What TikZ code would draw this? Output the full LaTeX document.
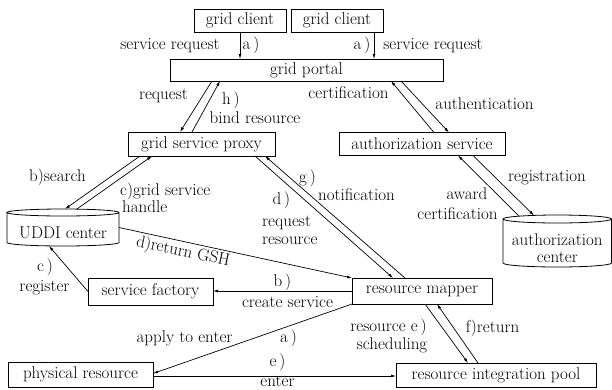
\documentclass[tikz,border=0pt]{standalone}
\usepackage{fontspec}
\usetikzlibrary{arrows.meta}
\newcommand\dgfont{\fontsize{17}{17}\selectfont}
\tikzset{
  box/.style={draw, line width=0.8pt, inner sep=0pt, outer sep=0pt, font=\dgfont},
  cylbody/.style={inner sep=0pt, outer sep=0pt, font=\dgfont},
  cyl/.style={line width=0.8pt},
  arr/.style={line width=0.7pt, -{Latex[length=5pt,width=3pt]}},
  lab/.style={inner sep=0pt, anchor=base, font=\dgfont},
  labw/.style={inner sep=0pt, anchor=base west, font=\dgfont},
}
\begin{document}
\begin{tikzpicture}[x=1pt, y=-1pt]
\useasboundingbox (0,0) rectangle (612,389);

% boxes
\node[box, minimum width=92pt,  minimum height=23pt] (gc1)      at (240,20.5)  {grid client};
\node[box, minimum width=92pt,  minimum height=23pt] (gc2)      at (337,20.5)  {grid client};
\node[box, minimum width=273pt, minimum height=22pt] (portal)   at (306.5,70)  {grid portal};
\node[box, minimum width=147pt, minimum height=24pt] (proxy)    at (201.5,144) {grid service proxy};
\node[box, minimum width=166pt, minimum height=23pt] (authsvc)  at (422,144)   {authorization service};
\node[box, minimum width=125pt, minimum height=27pt] (factory)  at (150.5,291.5) {service factory};
\node[box, minimum width=140pt, minimum height=26pt] (mapper)   at (422,291)   {resource mapper};
\node[box, minimum width=145pt, minimum height=25pt] (physical) at (80.5,374.5) {physical resource};
\node[box, minimum width=200pt, minimum height=24pt] (pool)     at (496,375)   {resource integration pool};

% databases
\node[cylbody, minimum width=112pt, minimum height=37pt] (uddi) at (63,227.5)
  {\raisebox{-5pt}[\height][\depth]{UDDI center}};
\draw[cyl] ([yshift=-3.5pt]uddi.north west) -- ([yshift=3.5pt]uddi.south west)
  arc[start angle=180, end angle=360, x radius=56pt, y radius=3.5pt]
  -- ([yshift=-3.5pt]uddi.north east)
  arc[start angle=0, end angle=180, x radius=56pt, y radius=3.5pt]
  arc[start angle=180, end angle=360, x radius=56pt, y radius=3.5pt];

\node[cylbody, minimum width=108.5pt, minimum height=52pt] (authctr) at (557.25,241)
  {\raisebox{-9.5pt}[\height][\depth]{\begin{tabular}{@{}c@{}}authorization\\center\end{tabular}}};
\draw[cyl] ([yshift=-4pt]authctr.north west) -- ([yshift=4pt]authctr.south west)
  arc[start angle=180, end angle=360, x radius=54.25pt, y radius=4pt]
  -- ([yshift=-4pt]authctr.north east)
  arc[start angle=0, end angle=180, x radius=54.25pt, y radius=4pt]
  arc[start angle=180, end angle=360, x radius=54.25pt, y radius=4pt];

% connectors
\draw[arr] (gc1.south) -- (gc1.south |- portal.north);
\draw[arr] ([xshift=-9pt]gc2.south east) coordinate (g2s) -- (g2s |- portal.north);

\draw[arr] ([xshift=42pt]portal.south west) -- ([xshift=52pt]proxy.north west);
\draw[arr] ([xshift=64pt]proxy.north west) -- ([xshift=50pt]portal.south west);

\draw[arr] ([xshift=95pt]authsvc.north west) -- ([xshift=221pt]portal.south west);
\draw[arr] ([xshift=231pt]portal.south west) -- ([xshift=110pt]authsvc.north west);

\draw[arr] ([xshift=12pt]proxy.south west) -- ([xshift=58pt]uddi.north west);
\draw[arr] ([xshift=70pt]uddi.north west) -- ([xshift=24pt]proxy.south west);

\draw[arr] ([xshift=-20pt]proxy.south east) -- ([xshift=41pt]mapper.north west);
\draw[arr] ([xshift=53pt]mapper.north west) -- ([xshift=-10pt]proxy.south east);

\draw[arr] ([xshift=16pt,yshift=-1pt]authctr.north west) -- ([xshift=119pt]authsvc.south west);
\draw[arr] ([xshift=134pt]authsvc.south west) -- ([xshift=31pt,yshift=-0.5pt]authctr.north west);

\draw[arr] (uddi.east) -- (mapper.north west);
\draw[arr] (mapper.west) -- (mapper.west -| factory.east);
\draw[arr] (mapper.south west) -- ([yshift=1pt]physical.east);
\draw[arr] ([yshift=-1.5pt]physical.east) coordinate (pe) -- (pe -| pool.west);

\draw[arr] ([xshift=73pt]mapper.south west) -- ([xshift=72pt]pool.north west);
\draw[arr] ([xshift=82pt]pool.north west) -- ([xshift=85pt]mapper.south west);

\draw[arr] (factory.west) -- ([xshift=42pt]uddi.south west);

% labels
\node[lab] (l1)  at (170,49)    {service request};
\node[lab] (l2)  at (251,49)    {a\,)};
\node[lab] (l3)  at (362,49)    {a\,)};
\node[lab] (l4)  at (433,49)    {service request};
\node[lab] (l5)  at (163.5,99)  {request};
\node[lab] (l6)  at (231,104)   {h\,)};
\node[lab] (l7)  at (255,123)   {bind resource};
\node[lab] (l8)  at (348.5,98)  {certification};
\node[lab] (l9)  at (484.5,109) {authentication};
\node[lab] (l10) at (57.5,181)  {b)search};
\node[labw] (l11) at (120,195)  {c)grid service};
\node[labw] (l12) at (122,212)  {handle};
\node[lab] (l13) at (307.5,182) {g\,)};
\node[labw] (l14) at (318,200)  {notification};
\node[lab] (l15) at (281.5,204) {d\,)};
\node[labw] (l16) at (262,226)  {request};
\node[labw] (l17) at (262,244)  {resource};
\node[lab] (l18) at (547,181)   {registration};
\node[lab] (l19) at (467,199)   {award};
\node[lab] (l20) at (457.5,219) {certification};
\node[inner sep=0pt, font=\dgfont, rotate=-12] (l21) at (183,252) {d)return GSH};
\node[lab] (l22) at (282.5,286) {b\,)};
\node[lab] (l23) at (287.5,307) {create service};
\node[lab] (l24) at (45,271)    {c\,)};
\node[lab] (l25) at (44.5,291)  {register};
\node[lab] (l26) at (184.5,342) {apply to enter};
\node[lab] (l27) at (288.5,342) {a\,)};
\node[lab] (l28) at (277.5,366) {e\,)};
\node[lab] (l29) at (277.5,386.5) {enter};
\node[lab] (l30) at (388.5,331) {resource e\,)};
\node[lab] (l31) at (392,349)   {scheduling};
\node[lab] (l32) at (492.5,332) {f)return};
\end{tikzpicture}
\end{document}
